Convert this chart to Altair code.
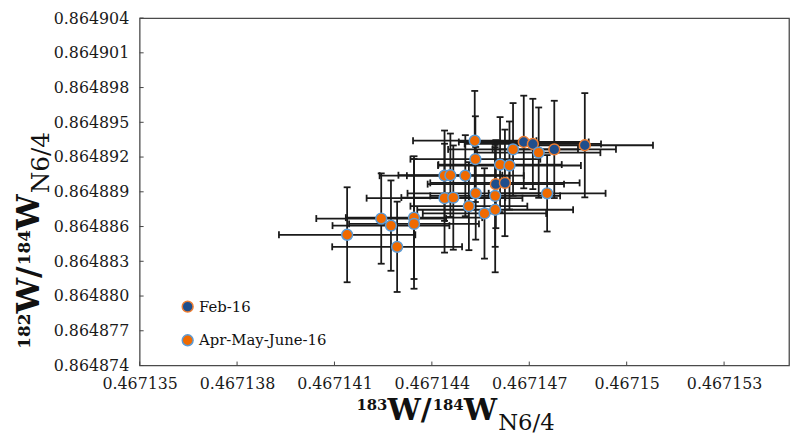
import altair as alt
import pandas as pd

# ---------------- data ----------------
series_names = ["Feb-16", "Apr-May-June-16"]

feb_x = [0.46714683, 0.46714711, 0.46714777, 0.46714871, 0.46714597, 0.46714625]
feb_y = [0.86489330, 0.86489313, 0.86489266, 0.86489302, 0.86488966, 0.86488977]
feb_xerr = [0.0000020, 0.0000021, 0.0000019, 0.0000021, 0.0000021, 0.0000023]
feb_yerr = [0.0000040, 0.0000039, 0.0000042, 0.0000045, 0.0000038, 0.0000046]

apr_x = [0.46714532, 0.46714534, 0.46714439, 0.46714457, 0.46714503, 0.46714610,
         0.46714639, 0.46714650, 0.46714729, 0.46714439, 0.46714466, 0.46714535,
         0.46714595, 0.46714755, 0.46714514, 0.46714562, 0.46714595, 0.46714244,
         0.46714274, 0.46714345, 0.46714345, 0.46714139, 0.46714293]
apr_y = [0.86489341, 0.86489182, 0.86489039, 0.86489043, 0.86489039, 0.86489135,
         0.86489127, 0.86489266, 0.86489238, 0.86488845, 0.86488850, 0.86488887,
         0.86488865, 0.86488887, 0.86488776, 0.86488713, 0.86488745, 0.86488669,
         0.86488608, 0.86488677, 0.86488623, 0.86488529, 0.86488425]
apr_xerr = [0.0000019, 0.0000020, 0.0000020, 0.0000016, 0.0000018, 0.0000019,
            0.0000022, 0.0000020, 0.0000019, 0.0000024, 0.0000016, 0.0000021,
            0.0000020, 0.0000018, 0.0000018, 0.0000019, 0.0000024, 0.0000020,
            0.0000018, 0.0000021, 0.0000020, 0.0000021, 0.0000020]
apr_yerr = [0.0000043, 0.0000037, 0.0000039, 0.0000036, 0.0000035, 0.0000041,
            0.0000038, 0.0000040, 0.0000039, 0.0000047, 0.0000045, 0.0000040,
            0.0000044, 0.0000033, 0.0000038, 0.0000039, 0.0000054, 0.0000039,
            0.0000039, 0.0000053, 0.0000056, 0.0000041, 0.0000039]

x_ticks = [0.467135, 0.467138, 0.467141, 0.467144, 0.467147, 0.467150, 0.467153]
y_ticks = [0.864874, 0.864877, 0.864880, 0.864883, 0.864886, 0.864889,
           0.864892, 0.864895, 0.864898, 0.864901, 0.864904]
x_domain = [0.467135, 0.467155]
y_domain = [0.864874, 0.864904]

# ---------------- tables ----------------
df = pd.concat([
    pd.DataFrame({"series": series_names[0], "x": feb_x, "y": feb_y,
                  "xerr": feb_xerr, "yerr": feb_yerr}),
    pd.DataFrame({"series": series_names[1], "x": apr_x, "y": apr_y,
                  "xerr": apr_xerr, "yerr": apr_yerr}),
], ignore_index=True)
df["order"] = range(len(df))

W, H = 656, 351
SERIF = "DejaVu Serif"
EB = "#1a1a1a"
EBW = 1.8

xs = alt.Scale(domain=x_domain, nice=False, zero=False)
ys = alt.Scale(domain=y_domain, nice=False, zero=False)

x_axis = alt.Axis(values=x_ticks, format=".6~f", title=None, labelPadding=10,
                  labelFlush=False, labelOverlap=False, grid=False, domain=False,
                  ticks=False)
y_axis = alt.Axis(values=y_ticks, format=".6f", title=None, labelPadding=11,
                  labelFlush=False, labelOverlap=False, grid=False, domain=False,
                  ticks=False)


def X(field):
    return alt.X(field, scale=xs, axis=x_axis)


def Y(field):
    return alt.Y(field, scale=ys, axis=y_axis)


base = alt.Chart(df).transform_calculate(
    xlo="datum.x - datum.xerr", xhi="datum.x + datum.xerr",
    ylo="datum.y - datum.yerr", yhi="datum.y + datum.yerr",
)

hbar = base.mark_rule(color=EB, strokeWidth=EBW).encode(
    x=X("xlo:Q"), x2="xhi:Q", y=Y("y:Q"))
vbar = base.mark_rule(color=EB, strokeWidth=EBW).encode(
    x=X("x:Q"), y=Y("ylo:Q"), y2="yhi:Q")
cap_l = base.mark_rule(color=EB, strokeWidth=EBW, yOffset=-3.5, y2Offset=3.5).encode(
    x=X("xlo:Q"), y=Y("y:Q"), y2="y:Q")
cap_r = base.mark_rule(color=EB, strokeWidth=EBW, yOffset=-3.5, y2Offset=3.5).encode(
    x=X("xhi:Q"), y=Y("y:Q"), y2="y:Q")
cap_b = base.mark_rule(color=EB, strokeWidth=EBW, xOffset=-3.5, x2Offset=3.5).encode(
    x=X("x:Q"), x2="x:Q", y=Y("ylo:Q"))
cap_t = base.mark_rule(color=EB, strokeWidth=EBW, xOffset=-3.5, x2Offset=3.5).encode(
    x=X("x:Q"), x2="x:Q", y=Y("yhi:Q"))

legend = alt.Legend(
    title=None, orient="none", legendX=41, legendY=284, direction="vertical",
    symbolType="circle", symbolSize=120, symbolStrokeWidth=1.5,
    labelFont=SERIF, labelFontSize=15, labelColor="#111", rowPadding=17,
    labelOffset=4, padding=0,
)
pts = base.mark_circle(size=120, opacity=1, strokeWidth=1.5).encode(
    x=X("x:Q"),
    y=Y("y:Q"),
    fill=alt.Fill("series:N", scale=alt.Scale(domain=series_names,
                  range=["#1f4e8c", "#f06a00"]), legend=legend, sort=series_names),
    stroke=alt.Stroke("series:N", scale=alt.Scale(domain=series_names,
                      range=["#ed7d31", "#5b9bd5"]), legend=legend, sort=series_names),
    order=alt.Order("order:Q"),
)

# inward tick marks
xt = alt.Chart(pd.DataFrame({"t": x_ticks})).mark_rule(color="#444", strokeWidth=1).encode(
    x=X("t:Q"), y=alt.value(H), y2=alt.value(H - 4))
yt = alt.Chart(pd.DataFrame({"t": y_ticks})).mark_rule(color="#444", strokeWidth=1).encode(
    y=Y("t:Q"), x=alt.value(0), x2=alt.value(4))

# ---------------- axis titles built from pieces (sup / main / sub) ----------------
ADV_BOLD = {"d": 0.696, "/": 0.365, "W": 1.16}
ADV_REG = {"d": 0.636, "/": 0.337, "N": 0.80}


def adv(text, size, bold):
    t = ADV_BOLD if bold else ADV_REG
    return sum(t["d"] if c.isdigit() else t.get(c, 0.7) for c in text) * size


def title_pieces(pieces, start, base_pos, vertical):
    layers = []
    pos = start
    for text, size, bold, off in pieces:
        kw = dict(font=SERIF, fontSize=size, fontWeight="bold" if bold else "normal",
                  align="left", baseline="alphabetic", color="#111")
        if vertical:
            kw["angle"] = 270
            enc = dict(x=alt.value(base_pos + off), y=alt.value(pos))
            pos -= adv(text, size, bold)
        else:
            enc = dict(x=alt.value(pos), y=alt.value(base_pos + off))
            pos += adv(text, size, bold)
        layers.append(alt.Chart(pd.DataFrame({"t": [text]})).mark_text(**kw)
                      .encode(text="t:N", **enc))
    return layers


SUP, MAIN, SUB = 15, 30, 23
x_title = title_pieces([("183", SUP, True, -10), ("W/", MAIN, True, 0),
                        ("184", SUP, True, -10), ("W", MAIN, True, 0),
                        ("N6/4", SUB, False, 10)], 219, 406, False)
y_title = title_pieces([("182", SUP + 2, True, -9), ("W/", MAIN + 2, True, 0),
                        ("184", SUP + 2, True, -9), ("W", MAIN + 2, True, 0),
                        ("N6/4", SUB + 2, False, 10)], 334, -102, True)

chart = alt.layer(hbar, vbar, cap_l, cap_r, cap_b, cap_t, xt, yt, pts,
                  *x_title, *y_title).properties(
    width=W, height=H,
    autosize=alt.AutoSizeParams(type="none"),
    padding={"left": 133, "top": 8, "right": 3, "bottom": 67},
    background="white",
).configure_view(stroke="#4a4a4a", strokeWidth=1.3).configure_axis(
    labelFont=SERIF, labelFontSize=16, labelColor="#1a1a1a",
)

chart.save("out.html", embed_options={"renderer": "svg", "actions": False})
